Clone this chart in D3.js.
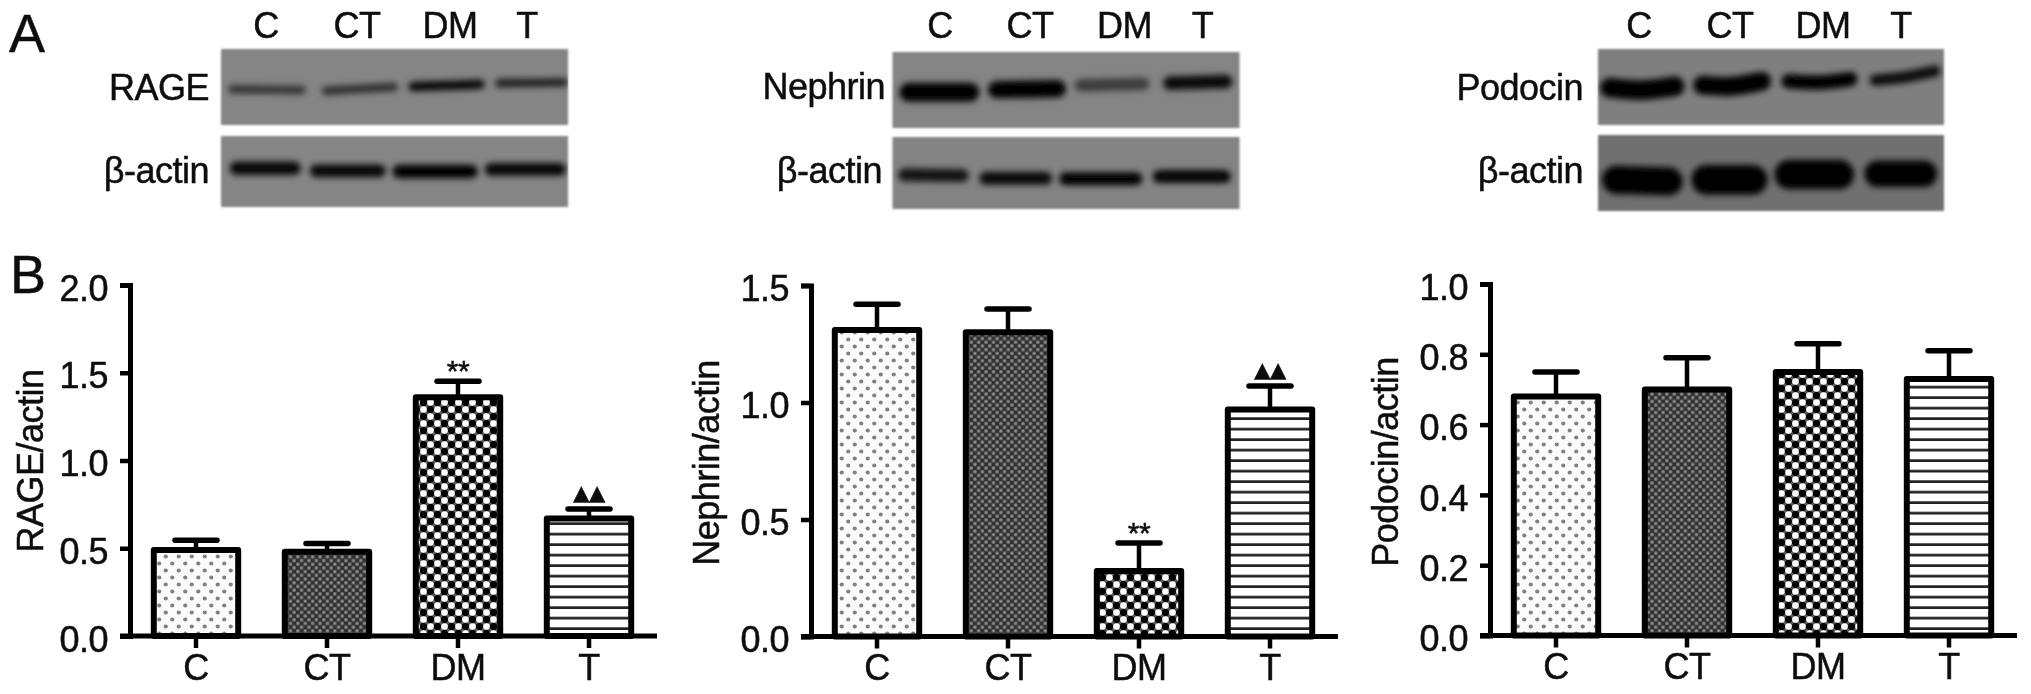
<!DOCTYPE html>
<html>
<head>
<meta charset="utf-8">
<script src="https://cdn.jsdelivr.net/npm/d3@7/dist/d3.min.js"></script>
<style>
html,body{margin:0;padding:0;background:#fff;}
svg{display:block;}
text{font-family:"Liberation Sans",Arial,sans-serif;fill:#111;stroke:#111;stroke-width:0.5px;letter-spacing:-0.5px;}
</style>
</head>
<body>
<svg id="chart" width="2031" height="694" role="img" aria-label="Western blots and bar charts of RAGE, Nephrin and Podocin relative to actin"></svg>
<script>
// ---------- data ----------
const categories = ["C", "CT", "DM", "T"];

const rageValues = [0.49, 0.48, 1.36, 0.67];
const rageErrors = [0.055, 0.047, 0.092, 0.054];
const rageNotes = ["", "", "**", "▲▲"];
const rageTicks = [0, 0.5, 1.0, 1.5, 2.0];

const nephrinValues = [1.31, 1.30, 0.28, 0.97];
const nephrinErrors = [0.11, 0.10, 0.12, 0.10];
const nephrinNotes = ["", "", "**", "▲▲"];
const nephrinTicks = [0, 0.5, 1.0, 1.5];

const podocinValues = [0.68, 0.70, 0.75, 0.73];
const podocinErrors = [0.07, 0.09, 0.08, 0.08];
const podocinNotes = ["", "", "", ""];
const podocinTicks = [0, 0.2, 0.4, 0.6, 0.8, 1.0];

// band darkness read from the blots (0 to 1), one per lane
const rageBandDark = [0.62, 0.66, 0.95, 0.78];
const rageActinDark = [0.95, 0.95, 1, 0.95];
const nephrinBandDark = [1, 1, 0.55, 0.92];
const nephrinActinDark = [0.85, 0.92, 1, 0.98];
const podocinBandDark = [1, 1, 1, 0.92];
const podocinActinDark = [1, 1, 1, 1];

// ---------- layout ----------
const BLOTS = [
  { name: "RAGE", x0: 221, x1: 568, top: [49, 125], bottom: [136, 207], labelRight: 209, actinRight: 209,
    labelBase: 100, topBg: "#858585", botBg: "#858585", dark: rageBandDark, actinDark: rageActinDark,
    laneLabels: [266, 357, 450, 527],
    // lane geometry as fractions of the blot: start, end, mid-height, thickness, tilt, sag
    lanes: [[.02,.244,.535,.11,.01,0],[.29,.51,.525,.11,-.05,0],[.54,.76,.48,.125,-.03,0],[.79,1,.445,.11,-.01,0]],
    actin: [[.025,.23,.455,.19,0,0],[.256,.475,.49,.18,0,0],[.494,.74,.5,.19,0,0],[.76,.994,.47,.18,0,0]] },
  { name: "Nephrin", x0: 892.5, x1: 1239.5, top: [52, 128], bottom: [137, 209], labelRight: 885, actinRight: 882,
    labelBase: 99, topBg: "#848484", botBg: "#838383", dark: nephrinBandDark, actinDark: nephrinActinDark,
    laneLabels: [940, 1030, 1124.5, 1202.5],
    lanes: [[.02,.25,.53,.25,0,0],[.275,.5,.49,.23,-.01,0],[.525,.74,.43,.16,-.02,0],[.78,.98,.40,.18,-.02,0]],
    actin: [[.016,.22,.53,.18,.01,0],[.25,.46,.574,.18,0,0],[.48,.72,.58,.18,0,0],[.75,.975,.55,.18,0,0]] },
  { name: "Podocin", x0: 1598, x1: 1944, top: [49, 125], bottom: [135, 211], labelRight: 1583, actinRight: 1583,
    labelBase: 100, topBg: "#7f7f7f", botBg: "#6f6f6f", dark: podocinBandDark, actinDark: podocinActinDark,
    laneLabels: [1639, 1730, 1823, 1901],
    lanes: [[.006,.25,.5,.26,-.02,.04],[.275,.5,.45,.25,-.05,.04],[.53,.75,.41,.19,-.03,.03],[.785,.99,.35,.15,-.12,.02]],
    actin: [[.012,.245,.6,.37,.02,0],[.27,.49,.59,.39,0,0],[.51,.74,.52,.39,0,0],[.77,.98,.51,.35,0,0]] }
];

const PANELS = [
  { title: "RAGE/actin", values: rageValues, errors: rageErrors, notes: rageNotes, ticks: rageTicks, max: 2,
    axisX: 130, y0: 636, yTop: 285, titleX: 43, titleY: 461 },
  { title: "Nephrin/actin", values: nephrinValues, errors: nephrinErrors, notes: nephrinNotes, ticks: nephrinTicks, max: 1.5,
    axisX: 811, y0: 636.5, yTop: 285.5, titleX: 719, titleY: 463 },
  { title: "Podocin/actin", values: podocinValues, errors: podocinErrors, notes: podocinNotes, ticks: podocinTicks, max: 1,
    axisX: 1490, y0: 635.5, yTop: 284, titleX: 1398, titleY: 462 }
];

const INK = "#050505";
const FONT_SIZE = 36;
const svg = d3.select("#chart");
const defs = svg.append("defs");

// ---------- filters and patterns ----------
function blur(id, sd) {
  defs.append("filter").attr("id", id).attr("filterUnits", "userSpaceOnUse")
    .attr("x", 0).attr("y", 0).attr("width", 2031).attr("height", 694)
    .append("feGaussianBlur").attr("stdDeviation", sd);
}
blur("soft", 0.55);
blur("bandBlur", 3);
blur("edgeBlur", 0.8);

const pDots = defs.append("pattern").attr("id", "pat-C").attr("patternUnits", "userSpaceOnUse")
  .attr("width", 13).attr("height", 14);
pDots.append("rect").attr("width", 13).attr("height", 14).attr("fill", "#fbfbfb");
[[3.25, 3.5], [9.75, 10.5]].forEach(p => pDots.append("circle").attr("cx", p[0]).attr("cy", p[1]).attr("r", 2.1).attr("fill", "#808080"));

const pFine = defs.append("pattern").attr("id", "pat-CT").attr("patternUnits", "userSpaceOnUse")
  .attr("width", 7.4).attr("height", 7.4);
pFine.append("rect").attr("width", 7.4).attr("height", 7.4).attr("fill", "#303030");
[[1.85, 1.85], [5.55, 5.55]].forEach(p => pFine.append("rect").attr("x", p[0] - 1.5).attr("y", p[1] - 1.5).attr("width", 3).attr("height", 3).attr("fill", "#8f8f8f"));

const pCheck = defs.append("pattern").attr("id", "pat-DM").attr("patternUnits", "userSpaceOnUse")
  .attr("width", 14).attr("height", 14);
pCheck.append("rect").attr("width", 14).attr("height", 14).attr("fill", "#5a5a5a");
[[3.5, 3.5], [10.5, 10.5]].forEach(p => pCheck.append("circle").attr("cx", p[0]).attr("cy", p[1]).attr("r", 3.3).attr("fill", "#fff"));
[[10.5, 3.5], [3.5, 10.5]].forEach(p => pCheck.append("circle").attr("cx", p[0]).attr("cy", p[1]).attr("r", 3.6).attr("fill", "#000"));

const pLines = defs.append("pattern").attr("id", "pat-T").attr("patternUnits", "userSpaceOnUse")
  .attr("width", 14).attr("height", 10.5);
pLines.append("rect").attr("width", 14).attr("height", 10.5).attr("fill", "#fff");
pLines.append("rect").attr("y", 7.8).attr("width", 14).attr("height", 2.7).attr("fill", "#222");

const root = svg.append("g").attr("filter", "url(#soft)");

// ---------- panel letters ----------
root.append("text").text("A").attr("x", 9).attr("y", 52).attr("font-size", 54);
root.append("text").text("B").attr("x", 10).attr("y", 293).attr("font-size", 54);

// ---------- blots ----------
const laneLine = d3.line().curve(d3.curveNatural);

function drawMembrane(g, blot, range, bg, lanes, dark) {
  const fx = d3.scaleLinear().domain([0, 1]).range([blot.x0, blot.x1]);
  const fy = d3.scaleLinear().domain([0, 1]).range(range);
  const clipId = "clip-" + blot.name + "-" + range[0];
  defs.append("clipPath").attr("id", clipId).append("rect")
    .attr("x", blot.x0).attr("y", range[0]).attr("width", blot.x1 - blot.x0).attr("height", range[1] - range[0]);
  g.append("rect").attr("x", blot.x0).attr("y", range[0])
    .attr("width", blot.x1 - blot.x0).attr("height", range[1] - range[0])
    .attr("fill", bg).attr("filter", "url(#edgeBlur)");
  g.append("g").attr("clip-path", `url(#${clipId})`)
    .append("g").attr("filter", "url(#bandBlur)")
    .selectAll("path").data(lanes).join("path")
    .attr("d", l => {
      const w = fy(l[3]) - fy(0);
      const a = fx(l[0]) + w / 2, b = fx(l[1]) - w / 2;
      const mid = fy(l[2]), tilt = fy(l[4]) - fy(0), sag = fy(l[5]) - fy(0);
      return laneLine([[a, mid - tilt / 2], [(a + b) / 2, mid + sag], [b, mid + tilt / 2]]);
    })
    .attr("fill", "none").attr("stroke", "#060606")
    .attr("stroke-linecap", "round")
    .attr("stroke-width", l => fy(l[3]) - fy(0))
    .attr("stroke-opacity", (l, i) => dark[i]);
}

BLOTS.forEach(blot => {
  const g = root.append("g").attr("class", "blot");
  drawMembrane(g, blot, blot.top, blot.topBg, blot.lanes, blot.dark);
  drawMembrane(g, blot, blot.bottom, blot.botBg, blot.actin, blot.actinDark);
  g.selectAll("text.lane").data(categories).join("text").attr("class", "lane")
    .text(d => d).attr("text-anchor", "middle").attr("font-size", FONT_SIZE)
    .attr("x", (d, i) => blot.laneLabels[i]).attr("y", 38);
  g.append("text").text(blot.name).attr("text-anchor", "end").attr("font-size", FONT_SIZE)
    .attr("x", blot.labelRight).attr("y", blot.labelBase);
  g.append("text").text("β-actin").attr("text-anchor", "end").attr("font-size", FONT_SIZE)
    .attr("x", blot.actinRight).attr("y", 183);
});

// ---------- bar panels ----------
PANELS.forEach(p => {
  const g = root.append("g").attr("class", "panel");
  const x = d3.scaleBand().domain(categories)
    .range([p.axisX + 0.5, p.axisX + 524.5]).paddingInner(0.31).paddingOuter(0.155);
  const y = d3.scaleLinear().domain([0, p.max]).range([p.y0, p.yTop]);
  const rows = categories.map((c, i) => ({ c, v: p.values[i], e: p.errors[i], n: p.notes[i] }));
  const sw = 6;

  // error bars (behind the bars)
  const err = g.selectAll("g.err").data(rows).join("g").attr("class", "err");
  err.append("line")
    .attr("x1", d => x(d.c) + x.bandwidth() / 2).attr("x2", d => x(d.c) + x.bandwidth() / 2)
    .attr("y1", d => y(d.v)).attr("y2", d => y(d.v + d.e))
    .attr("stroke", INK).attr("stroke-width", 4.5);
  err.append("line")
    .attr("x1", d => x(d.c) + x.bandwidth() / 2 - 21).attr("x2", d => x(d.c) + x.bandwidth() / 2 + 21)
    .attr("y1", d => y(d.v + d.e)).attr("y2", d => y(d.v + d.e))
    .attr("stroke", INK).attr("stroke-width", 5.5).attr("stroke-linecap", "round");

  // bars
  g.selectAll("rect.bar").data(rows).join("rect").attr("class", "bar")
    .attr("x", d => x(d.c) + sw / 2).attr("width", x.bandwidth() - sw)
    .attr("y", d => y(d.v)).attr("height", d => y(0) - y(d.v))
    .attr("fill", d => `url(#pat-${d.c})`)
    .attr("stroke", INK).attr("stroke-width", sw).attr("stroke-linejoin", "round");

  // significance marks
  g.selectAll("text.note").data(rows.filter(d => d.n)).join("text").attr("class", "note")
    .text(d => d.n).attr("text-anchor", "middle")
    .attr("x", d => x(d.c) + x.bandwidth() / 2)
    .attr("y", d => y(d.v + d.e) + (d.n === "**" ? 0 : -9))
    .attr("font-size", d => d.n === "**" ? 30 : 21)
    .style("font-family", d => d.n === "**" ? null : '"DejaVu Sans",sans-serif');

  // axes
  const yAxis = d3.axisLeft(y).tickValues(p.ticks).tickFormat(d3.format(".1f"))
    .tickSize(10).tickPadding(12);
  const gy = g.append("g").attr("transform", `translate(${p.axisX},0)`).call(yAxis);
  const xAxis = d3.axisBottom(x).tickSize(12).tickSizeOuter(0).tickPadding(6);
  const gx = g.append("g").attr("transform", `translate(0,${p.y0})`).call(xAxis);
  gx.select(".domain").attr("d", `M${p.axisX - 10},0H${p.axisX + 527}`);
  [gy, gx].forEach(a => {
    a.selectAll(".domain").attr("stroke", INK).attr("stroke-width", 5);
    a.selectAll(".tick line").attr("stroke", INK).attr("stroke-width", 4.5);
    a.selectAll("text").attr("font-size", FONT_SIZE).style("font-family", '"Liberation Sans",Arial,sans-serif').attr("fill", "#111");
  });
  gy.selectAll("text").attr("dy", "0.42em");
  gx.selectAll("text").attr("dy", "0.72em");

  // y title
  g.append("text").text(p.title).attr("text-anchor", "middle").attr("font-size", FONT_SIZE)
    .attr("transform", `translate(${p.titleX},${p.titleY}) rotate(-90)`);
});
</script>
</body>
</html>
